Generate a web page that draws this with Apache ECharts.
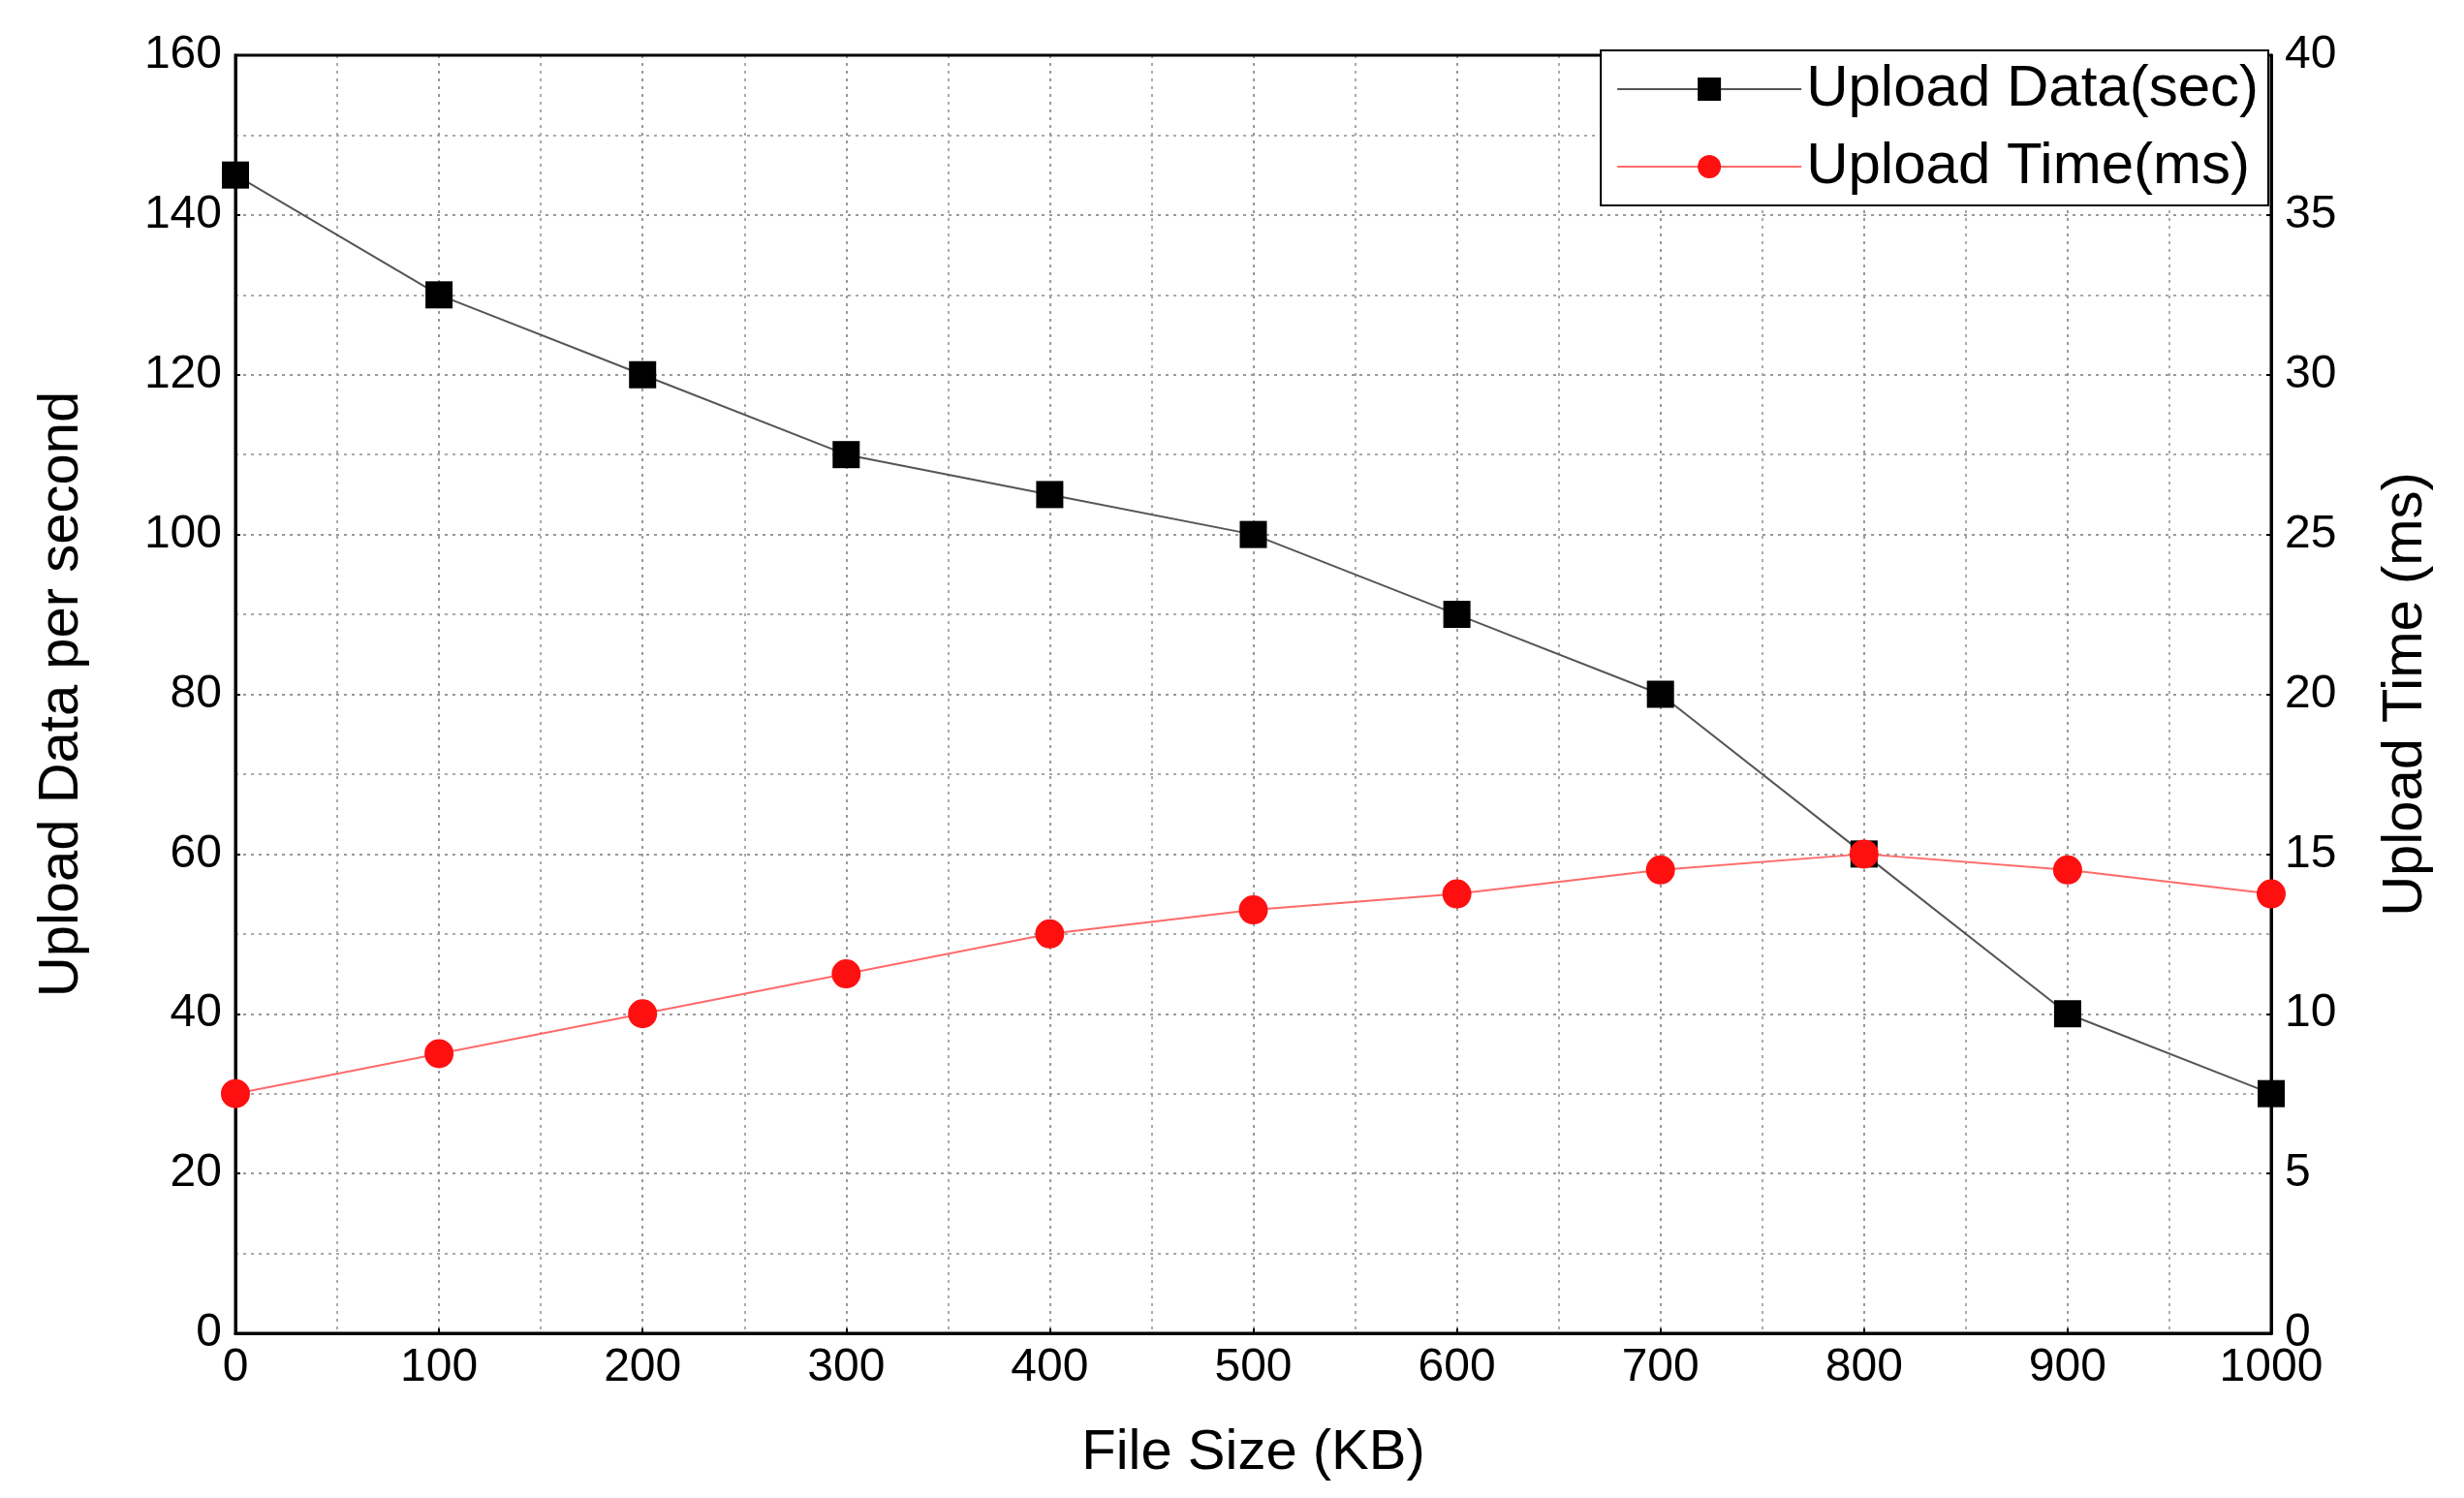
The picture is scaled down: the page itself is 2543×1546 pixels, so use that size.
<!DOCTYPE html>
<html><head><meta charset="utf-8">
<script src="https://cdn.jsdelivr.net/npm/echarts@6/dist/echarts.min.js"></script>
<style>html,body{margin:0;background:#fff}#root{width:2543px;height:1546px}</style>
</head><body><div id="root"></div>
<script>
const fileSize = [0, 100, 200, 300, 400, 500, 600, 700, 800, 900, 1000];
const uploadData = [145, 130, 120, 110, 105, 100, 90, 80, 60, 40, 30];
const uploadTime = [7.5, 8.75, 10, 11.25, 12.5, 13.25, 13.75, 14.5, 15, 14.5, 13.75];

const chart = echarts.init(document.getElementById('root'));
const font = 'Liberation Sans';
const grid = {show: true, lineStyle: {color: '#999', type: [3, 5], width: 2}};
const minor = {show: true, lineStyle: {color: '#aaa', type: [3, 5], width: 2}};
const axisLine = {show: true, lineStyle: {color: '#000', width: 3}};

chart.setOption({
  backgroundColor: '#fff',
  animation: false,
  grid: {left: 243, right: 199, top: 57, bottom: 170, show: true, borderColor: '#000', borderWidth: 3, z: 3},
  legend: {
    top: 52, right: 202, orient: 'vertical', itemWidth: 190, itemHeight: 30, itemGap: 20,
    backgroundColor: '#fff', borderColor: '#000', borderWidth: 2, padding: [10, 10, 10, 16],
    textStyle: {fontFamily: font, fontSize: 60, color: '#000'}
  },
  xAxis: {
    type: 'value', min: 0, max: 1000, interval: 100,
    name: 'File Size (KB)', nameLocation: 'middle', nameGap: 95,
    nameTextStyle: {fontFamily: font, fontSize: 58, color: '#000'},
    axisLabel: {fontFamily: font, fontSize: 48, color: '#000', margin: 12, formatter: v => String(v)},
    axisLine, axisTick: {inside: true, lineStyle: {color: '#000', width: 2}},
    splitLine: grid, minorTick: {show: false, splitNumber: 2}, minorSplitLine: minor
  },
  yAxis: [{
    type: 'value', min: 0, max: 160, interval: 20,
    name: 'Upload Data per second', nameLocation: 'middle', nameGap: 150,
    nameTextStyle: {fontFamily: font, fontSize: 58, color: '#000'},
    axisLabel: {fontFamily: font, fontSize: 48, color: '#000', margin: 14},
    axisLine, axisTick: {inside: true, lineStyle: {color: '#000', width: 2}},
    splitLine: grid, minorTick: {show: false, splitNumber: 2}, minorSplitLine: minor
  }, {
    type: 'value', min: 0, max: 40, interval: 5,
    name: 'Upload Time (ms)', nameLocation: 'middle', nameGap: 110, nameRotate: 90,
    nameTextStyle: {fontFamily: font, fontSize: 58, color: '#000'},
    axisLabel: {fontFamily: font, fontSize: 48, color: '#000', margin: 14},
    axisLine, axisTick: {inside: true, lineStyle: {color: '#000', width: 2}},
    splitLine: {show: false}
  }],
  series: [{
    name: 'Upload Data(sec)', type: 'line', yAxisIndex: 0,
    data: fileSize.map((x, i) => [x, uploadData[i]]),
    symbol: 'rect', symbolSize: 28, color: '#000',
    lineStyle: {color: '#555', width: 2}
  }, {
    name: 'Upload Time(ms)', type: 'line', yAxisIndex: 1,
    data: fileSize.map((x, i) => [x, uploadTime[i]]),
    symbol: 'circle', symbolSize: 30, color: '#ff1010',
    lineStyle: {color: '#ff6a6a', width: 2}
  }]
});
</script></body></html>
